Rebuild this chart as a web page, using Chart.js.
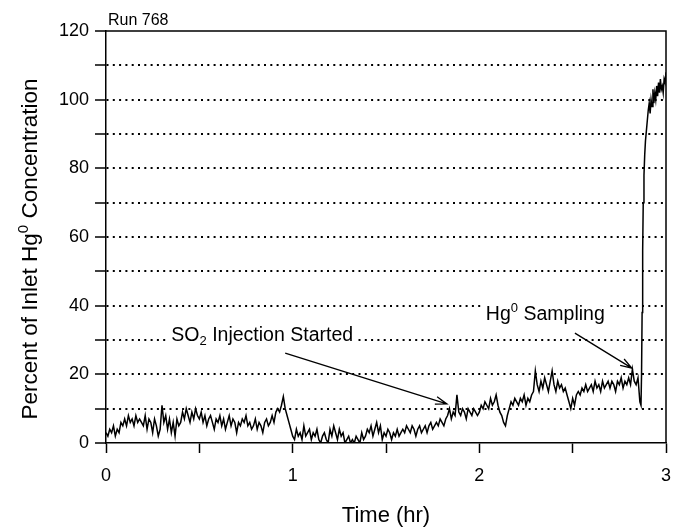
<!DOCTYPE html>
<html>
<head>
<meta charset="utf-8">
<script src="https://cdn.jsdelivr.net/npm/chart.js@4/dist/chart.umd.min.js"></script>
<style>
  html, body { margin: 0; padding: 0; background: #fff; }
  #wrap { width: 674px; height: 530px; }
</style>
</head>
<body>
<div id="wrap"><canvas id="hgChart" width="674" height="530"></canvas></div>
<script>
// Run 768 - porcentaje de Hg0 a la entrada, muestreo cada 0.01 hr hasta 2.86 hr
const runLabel = 'Run 768';
const sampleStep = 0.01;
const hgValues = [
  3, 2, 4, 3, 5, 2, 4, 3, 6, 5,
  7, 5, 8, 6, 7, 5, 8, 6, 7, 6,
  5, 8, 4, 7, 6, 3, 7, 5, 2, 4,
  11, 6, 8, 4, 7, 3, 6, 2, 7, 5,
  6, 9, 7, 10, 8, 6, 9, 7, 10, 8,
  7, 9, 6, 8, 5, 7, 8, 6, 4, 7,
  6, 8, 5, 7, 4, 6, 8, 5, 7, 6,
  3, 6, 5, 7, 6, 8, 5, 6, 4, 5,
  7, 4, 6, 5, 3, 6, 7, 5, 6, 8,
  6, 9, 10, 9, 11, 13.5, 10, 8, 6, 4,
  2, 1, 4, 2, 3, 1, 5, 2, 3, 4,
  1, 3, 2, 4, 1, 0, 2, 3, 1, 0,
  4, 2, 5, 3, 1, 4, 2, 3, 0, 1,
  2, 0, 1, 0, 2, 1, 0, 3, 1, 2,
  4, 3, 5, 2, 4, 6, 3, 5, 1, 3,
  2, 4, 3, 1, 3, 2, 4, 2, 3, 4,
  3, 5, 4, 3, 5, 4, 2, 4, 5, 3,
  4, 5, 3, 5, 6, 4, 5, 6, 5, 7,
  6, 5, 7, 8, 10, 7, 9, 8, 14, 9,
  8, 10, 9, 7, 10, 9, 8, 10, 9, 8,
  9, 11, 10, 12, 11, 10, 13, 11, 12, 14,
  11, 9, 8, 6, 5, 8, 10, 12, 11, 13,
  12, 11, 13, 12, 14, 11, 13, 12, 14, 15,
  21, 17, 15, 18, 16, 19, 17, 15, 18, 21,
  17, 15, 18, 16, 17, 15, 16, 14, 12, 10,
  13, 11, 14, 15, 14, 16, 15, 17, 15, 16,
  17, 15, 18, 16, 17, 15, 18, 16, 17, 18,
  16, 18, 17, 15, 18, 17, 19, 16, 18, 17,
  19, 17, 21.5, 18, 17, 19, 12
];
// subida final (muestreo de Hg0)
const riseTimes = [2.866, 2.869, 2.872, 2.875, 2.878, 2.882, 2.886, 2.890, 2.895, 2.900,
  2.905, 2.910, 2.915, 2.920, 2.925, 2.930, 2.935, 2.940, 2.945, 2.950,
  2.955, 2.960, 2.965, 2.970, 2.975, 2.980, 2.985, 2.990, 2.995, 3.000];
const riseValues = [11, 20, 38, 56, 70, 78, 84, 88, 91, 94,
  97, 99, 96, 100, 98, 103, 99, 102, 100, 104,
  101, 105, 102, 106, 103, 104, 102, 106, 105, 108];

// notas: posicion del texto y de la flecha en unidades de datos
const so2Note = { x: 0.35, y: 31.2, from: [0.96, 26.2], to: [1.826, 11.4] };
const hgNote = { x: 2.035, y: 37.3, from: [2.512, 32.0], to: [2.817, 21.8] };

const FONT = "'Liberation Sans', Arial, Helvetica, sans-serif";

const points = hgValues.map((v, i) => ({ x: +(i * sampleStep).toFixed(2), y: v }));
riseTimes.forEach((t, i) => points.push({ x: t, y: riseValues[i] }));

function drawArrow(ctx, x1, y1, x2, y2) {
    const ang = Math.atan2(y2 - y1, x2 - x1);
    const len = 12, spread = 0.32;
    ctx.beginPath();
    ctx.moveTo(x1, y1);
    ctx.lineTo(x2, y2);
    ctx.moveTo(x2 - len * Math.cos(ang - spread), y2 - len * Math.sin(ang - spread));
    ctx.lineTo(x2, y2);
    ctx.lineTo(x2 - len * Math.cos(ang + spread), y2 - len * Math.sin(ang + spread));
    ctx.stroke();
}

// texto con sub/superindice y fondo blanco
function drawRichText(ctx, parts, x, y, size) {
    let cx = x;
    const widths = parts.map(p => {
        ctx.font = (p.small ? Math.round(size * 0.65) : size) + 'px ' + FONT;
        return ctx.measureText(p.t).width;
    });
    const total = widths.reduce((a, b) => a + b, 0);
    ctx.fillStyle = '#fff';
    ctx.fillRect(x - 4, y - size * 0.8, total + 8, size * 1.25);
    ctx.fillStyle = '#000';
    ctx.textBaseline = 'middle';
    ctx.textAlign = 'left';
    parts.forEach((p, i) => {
        ctx.font = (p.small ? Math.round(size * 0.65) : size) + 'px ' + FONT;
        ctx.fillText(p.t, cx, y + (p.shift || 0) * size);
        cx += widths[i];
    });
}

const annotationsPlugin = {
    id: 'annotations',
    afterDraw(chart) {
        const { ctx, chartArea, scales: { x, y } } = chart;
        ctx.save();
        // marco superior y derecho
        ctx.strokeStyle = '#000';
        ctx.lineWidth = 1.5;
        ctx.beginPath();
        ctx.moveTo(chartArea.left, chartArea.top);
        ctx.lineTo(chartArea.right, chartArea.top);
        ctx.lineTo(chartArea.right, chartArea.bottom);
        ctx.stroke();

        // Run 768
        ctx.fillStyle = '#000';
        ctx.font = '16px ' + FONT;
        ctx.textBaseline = 'alphabetic';
        ctx.textAlign = 'left';
        ctx.fillText(runLabel, chartArea.left + 2, chartArea.top - 6);

        // titulo eje X
        ctx.font = '22px ' + FONT;
        ctx.textAlign = 'center';
        ctx.fillText('Time (hr)', (chartArea.left + chartArea.right) / 2, 522);

        // titulo eje Y (rotado)
        ctx.save();
        ctx.translate(31, (chartArea.top + chartArea.bottom) / 2 + 12);
        ctx.rotate(-Math.PI / 2);
        const big = 22.5, small = 15;
        const yParts = [
            { t: 'Percent of Inlet Hg' },
            { t: '0', small: true, shift: -0.32 },
            { t: ' Concentration' }
        ];
        let w = 0;
        yParts.forEach(p => {
            ctx.font = (p.small ? small : big) + 'px ' + FONT;
            w += ctx.measureText(p.t).width;
        });
        let cx = -w / 2;
        ctx.textAlign = 'left';
        ctx.textBaseline = 'middle';
        yParts.forEach(p => {
            ctx.font = (p.small ? small : big) + 'px ' + FONT;
            ctx.fillText(p.t, cx, (p.shift || 0) * big);
            cx += ctx.measureText(p.t).width;
        });
        ctx.restore();

        // notas con flecha
        ctx.lineWidth = 1.3;
        ctx.strokeStyle = '#000';
        drawRichText(ctx, [
            { t: 'SO' }, { t: '2', small: true, shift: 0.3 }, { t: ' Injection Started' }
        ], x.getPixelForValue(so2Note.x), y.getPixelForValue(so2Note.y), 19.5);
        drawArrow(ctx, x.getPixelForValue(so2Note.from[0]), y.getPixelForValue(so2Note.from[1]),
            x.getPixelForValue(so2Note.to[0]), y.getPixelForValue(so2Note.to[1]));

        drawRichText(ctx, [
            { t: 'Hg' }, { t: '0', small: true, shift: -0.32 }, { t: ' Sampling' }
        ], x.getPixelForValue(hgNote.x), y.getPixelForValue(hgNote.y), 19.5);
        drawArrow(ctx, x.getPixelForValue(hgNote.from[0]), y.getPixelForValue(hgNote.from[1]),
            x.getPixelForValue(hgNote.to[0]), y.getPixelForValue(hgNote.to[1]));
        ctx.restore();
    }
};

new Chart(document.getElementById('hgChart').getContext('2d'), {
    type: 'line',
    data: {
        datasets: [{
            data: points,
            borderColor: '#000',
            borderWidth: 1.5,
            pointRadius: 0,
            tension: 0,
            fill: false
        }]
    },
    options: {
        responsive: false,
        animation: false,
        layout: { padding: { top: 31, right: 8, left: 0, bottom: 0 } },
        plugins: {
            legend: { display: false },
            tooltip: { enabled: false }
        },
        scales: {
            x: {
                type: 'linear',
                min: 0,
                max: 3,
                ticks: {
                    stepSize: 0.5,
                    autoSkip: false,
                    maxRotation: 0,
                    color: '#000',
                    font: { family: FONT, size: 18 },
                    padding: 12,
                    callback: v => Number.isInteger(v) ? v : ''
                },
                grid: {
                    drawOnChartArea: false,
                    tickLength: 10,
                    tickColor: '#000',
                    tickWidth: 1.5
                },
                border: { color: '#000', width: 1.5 },
                afterFit: s => {
                    s.height = 87;
                    s.paddingLeft = 0;
                    s.paddingRight = 0;
                }
            },
            y: {
                min: 0,
                max: 120,
                ticks: {
                    stepSize: 10,
                    autoSkip: false,
                    color: '#000',
                    font: { family: FONT, size: 18 },
                    padding: 6,
                    callback: v => v % 20 === 0 ? v : ''
                },
                grid: {
                    color: c => (c.tick && (c.tick.value === 0 || c.tick.value === 120)) ? 'rgba(0,0,0,0)' : '#000',
                    lineWidth: 2,
                    tickLength: 11,
                    tickColor: '#000',
                    tickWidth: 1.5,
                    tickBorderDash: []
                },
                border: { color: '#000', width: 1.5, dash: [2, 4.3] },
                afterFit: s => {
                    s.width = 106;
                    s.paddingTop = 0;
                    s.paddingBottom = 0;
                }
            }
        }
    },
    plugins: [annotationsPlugin]
});
</script>
</body>
</html>
